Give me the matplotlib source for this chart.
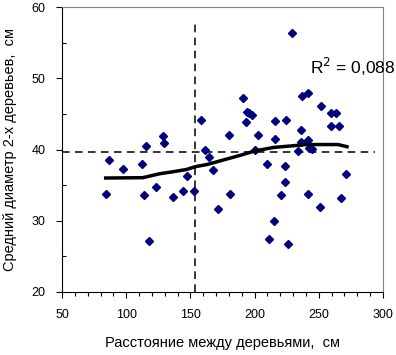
import matplotlib
matplotlib.use("Agg")
import matplotlib.pyplot as plt
from matplotlib.ticker import MultipleLocator

# Данные: расстояние между деревьями (см) и средний диаметр 2-х деревьев (см)
dist = [84.3, 86.6, 97.5, 112.1, 113.6, 115.7, 117.8, 123.4, 128.4, 129.7,
        136.2, 144.0, 147.1, 152.8, 158.5, 161.6, 164.5, 167.6, 171.3, 180.1,
        180.8, 191.0, 193.5, 194.3, 195.9, 198.0, 200.1, 202.6, 209.4, 211.2,
        215.1, 215.9, 215.9, 220.3, 223.7, 223.7, 224.7, 225.8, 229.4, 234.0,
        236.4, 236.4, 237.1, 241.8, 241.8, 241.8, 242.6, 244.5, 250.9, 252.0,
        259.7, 263.2, 259.7, 265.7, 267.5, 271.2]
diam = [33.8, 38.5, 37.3, 38.0, 33.6, 40.5, 27.2, 34.8, 41.9, 40.9,
        33.4, 34.2, 36.3, 34.2, 44.1, 40.0, 39.0, 37.1, 31.7, 42.1,
        33.8, 47.3, 43.8, 45.3, 45.1, 44.8, 40.0, 42.1, 38.0, 27.4,
        29.9, 44.0, 41.5, 33.6, 37.7, 35.5, 44.1, 26.7, 56.4, 39.8,
        42.7, 41.1, 47.5, 47.9, 41.3, 33.8, 40.2, 40.1, 32.0, 46.1,
        45.2, 45.2, 43.3, 43.3, 33.2, 36.5]

# Сглаженная линия тренда
trend_x = [84, 113, 126, 137, 147, 154, 163, 171, 181, 189, 200, 215, 228, 240, 265, 272]
trend_y = [36.0, 36.05, 36.6, 36.9, 37.2, 37.6, 37.9, 38.3, 38.8, 39.2, 39.8, 40.3, 40.5, 40.7, 40.7, 40.4]

# Средние значения (пунктирные линии)
mean_x, mean_x_top = 153.5, 57.9
mean_y, mean_y_right = 39.6, 294

r2_text = "R$^2$ = 0,088"

plt.rcParams["font.family"] = ["Liberation Sans", "DejaVu Sans"]

fig = plt.figure(figsize=(3.96, 3.55), dpi=100)
ax = fig.add_axes([0.1566, 0.1775, 0.8104, 0.8025])

ax.plot([mean_x, mean_x], [20, mean_x_top], color="black", lw=1.1, ls=(0, (5, 3.5)))
ax.plot([50, mean_y_right], [mean_y, mean_y], color="black", lw=1.1, ls=(0, (5, 3.5)))
ax.plot(dist, diam, ls="none", marker="D", ms=4.2, color="#00007f", zorder=3)
ax.plot(trend_x, trend_y, color="black", lw=2.5, zorder=4)

ax.text(0.772, 0.765, r2_text, transform=ax.transAxes, fontsize=12.5, clip_on=False)

ax.set_xlim(50, 300)
ax.set_ylim(20, 60)
ax.xaxis.set_major_locator(MultipleLocator(50))
ax.xaxis.set_minor_locator(MultipleLocator(10))
ax.yaxis.set_major_locator(MultipleLocator(10))
ax.yaxis.set_minor_locator(MultipleLocator(5))
ax.tick_params(which="major", direction="out", length=4, width=0.8, labelsize=9, pad=8)
ax.tick_params(which="minor", direction="out", length=3, width=0.8)
ax.tick_params(axis="y", which="minor", direction="in", length=3)

for side in ("top", "right"):
    ax.spines[side].set_color("#808080")
for side in ("left", "bottom"):
    ax.spines[side].set_color("black")

ax.set_xlabel("Расстояние между деревьями,  см", fontsize=10.5, labelpad=11)
ax.set_ylabel("Средний диаметр 2-х деревьев,  см", fontsize=10.5, labelpad=10)

fig.savefig("out.png", dpi=100)
